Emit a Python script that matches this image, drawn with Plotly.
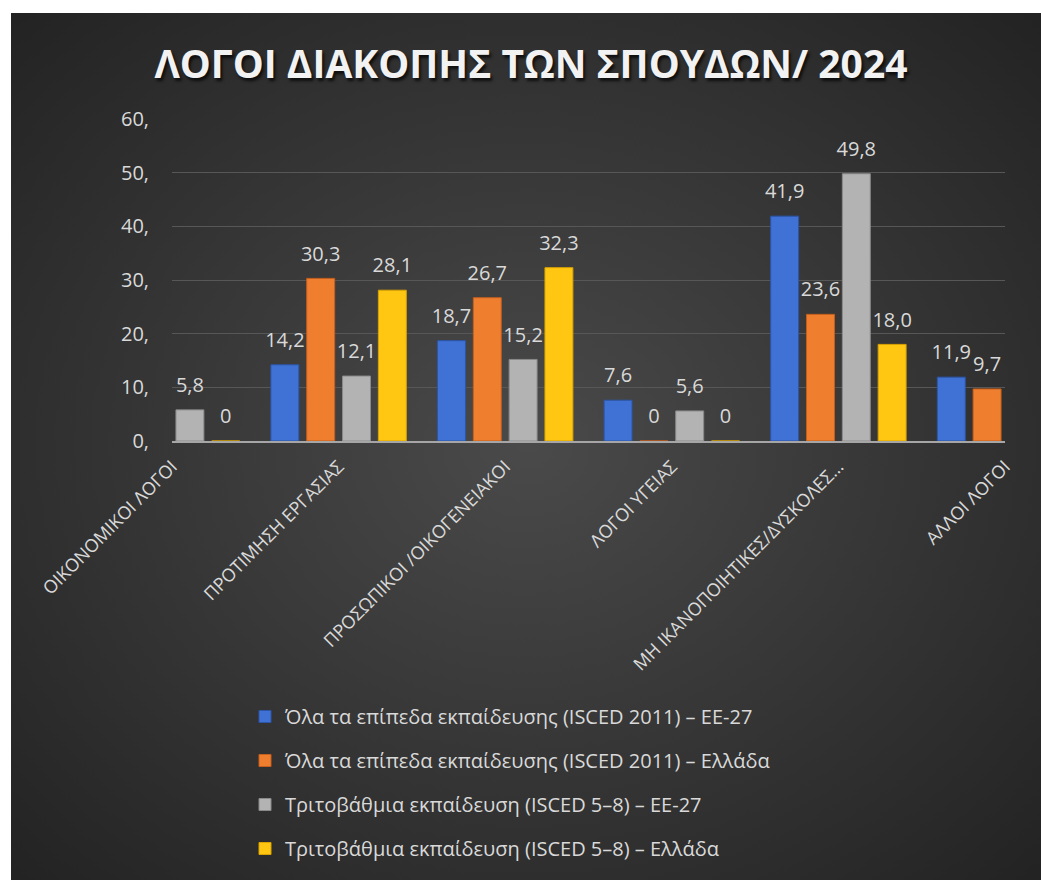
import base64
import plotly.graph_objects as go

# --- data -------------------------------------------------------------
categories = [
    "ΟΙΚΟΝΟΜΙΚΟΙ ΛΟΓΟΙ",
    "ΠΡΟΤΙΜΗΣΗ ΕΡΓΑΣΙΑΣ",
    "ΠΡΟΣΩΠΙΚΟΙ /ΟΙΚΟΓΕΝΕΙΑΚΟΙ",
    "ΛΟΓΟΙ ΥΓΕΙΑΣ",
    "ΜΗ ΙΚΑΝΟΠΟΙΗΤΙΚΕΣ/ΔΥΣΚΟΛΕΣ…",
    "ΑΛΛΟΙ ΛΟΓΟΙ",
]
all_levels_eu27 = [None, 14.2, 18.7, 7.6, 41.9, 11.9]
all_levels_greece = [None, 30.3, 26.7, 0, 23.6, 9.7]
tertiary_eu27 = [5.8, 12.1, 15.2, 5.6, 49.8, None]
tertiary_greece = [0, 28.1, 32.3, 0, 18.0, None]

series_names = [
    "Όλα τα επίπεδα εκπαίδευσης (ISCED 2011) – ΕΕ-27",
    "Όλα τα επίπεδα εκπαίδευσης (ISCED 2011) – Ελλάδα",
    "Τριτοβάθμια εκπαίδευση (ISCED 5–8) – ΕΕ-27",
    "Τριτοβάθμια εκπαίδευση (ISCED 5–8) – Ελλάδα",
]
series_values = [all_levels_eu27, all_levels_greece, tertiary_eu27, tertiary_greece]
series_colors = ["#3f72d4", "#f07e2f", "#b3b3b3", "#ffc711"]
series_edges = ["#2c55a8", "#c45f1c", "#8a8a8a", "#d9a300"]

y_ticks = [0, 10, 20, 30, 40, 50, 60]

TITLE = "ΛΟΓΟΙ ΔΙΑΚΟΠΗΣ ΤΩΝ ΣΠΟΥΔΩΝ/ 2024"
FONT = "Open Sans"
TXT = "#d9d9d9"

# --- geometry ---------------------------------------------------------
W, H = 1041, 880
ML, MR, MT, MB = 172, 36, 119, 439
PW, PH = W - ML - MR, H - MT - MB
BARGAP = 0.14


def fmt(v):
    if v is None:
        return ""
    return "0" if v == 0 else f"{v:.1f}".replace(".", ",")


fig = go.Figure()

for name, vals, col, edge in zip(series_names, series_values, series_colors, series_edges):
    fig.add_trace(go.Bar(
        x=categories, y=vals, name=name,
        marker=dict(color=col, line=dict(color=edge, width=1)),
        offsetgroup=name, legendgroup=name,
        hoverinfo="skip",
    ))

# data labels, grouped like the bars
for name, vals in zip(series_names, series_values):
    fig.add_trace(go.Scatter(
        x=categories, y=vals,
        mode="markers+text",
        text=[fmt(v) for v in vals],
        textposition="top center",
        textfont=dict(family=FONT, size=20, color=TXT),
        marker=dict(size=19, color="rgba(0,0,0,0)"),
        offsetgroup=name, showlegend=False, cliponaxis=False,
        hoverinfo="skip",
    ))

# dark radial-gradient chart background (white strip on top/left)
svg = (
    '<svg xmlns="http://www.w3.org/2000/svg" width="1030" height="867">'
    '<defs><radialGradient id="g" cx="50%" cy="50%" r="70%">'
    '<stop offset="0" stop-color="#4a4a4a"/><stop offset="1" stop-color="#232323"/>'
    '</radialGradient></defs><rect width="100%" height="100%" fill="url(#g)"/></svg>'
)
src = "data:image/svg+xml;base64," + base64.b64encode(svg.encode()).decode()
x0 = (11 - ML) / PW
x1 = (W - ML) / PW
y1 = (H - MB - 13) / PH
y0 = (H - MB - H) / PH
fig.add_layout_image(dict(
    source=src, xref="paper", yref="paper",
    x=x0, y=y1, sizex=x1 - x0, sizey=y1 - y0,
    xanchor="left", yanchor="top", sizing="stretch", layer="below",
))

fig.update_layout(
    width=W, height=H,
    margin=dict(l=ML, r=MR, t=MT, b=MB, autoexpand=False),
    paper_bgcolor="white",
    plot_bgcolor="rgba(0,0,0,0)",
    barmode="group", bargap=BARGAP, bargroupgap=0.22,
    scattermode="group", scattergap=BARGAP,
    font=dict(family=FONT, color=TXT),
    title=dict(
        text=f"<b>{TITLE}</b>",
        x=531 / W, xref="container", xanchor="center",
        y=(H - 64) / H, yanchor="middle",
        font=dict(family=FONT, size=39, color="#f2f2f2",
                  shadow="2px 3px 3px rgba(0,0,0,0.7)"),
    ),
    xaxis=dict(
        type="category", range=[0, len(categories) - 1],
        tickangle=-45, tickfont=dict(size=18, color=TXT),
        showgrid=False, showline=True, linecolor="#a6a6a6", linewidth=2,
        ticks="", ticklabelstandoff=6, automargin=False,
    ),
    yaxis=dict(
        range=[0, 60], tickvals=y_ticks, ticktext=[f"{v}," for v in y_ticks],
        tickfont=dict(size=20, color=TXT),
        showgrid=True, gridcolor="#575757", gridwidth=1,
        zeroline=False, showline=False, ticks="", ticklabelstandoff=22,
        automargin=False,
    ),
    legend=dict(
        orientation="v", x=(245 - ML) / PW, xanchor="left",
        y=(H - MB - 697) / PH, yanchor="top",
        font=dict(family=FONT, size=20, color=TXT),
        tracegroupgap=15, bgcolor="rgba(0,0,0,0)", itemwidth=30,
    ),
    showlegend=True,
)

fig.write_html("out.html", config={"displayModeBar": False},
               post_script="document.body.style.margin='0px';")
